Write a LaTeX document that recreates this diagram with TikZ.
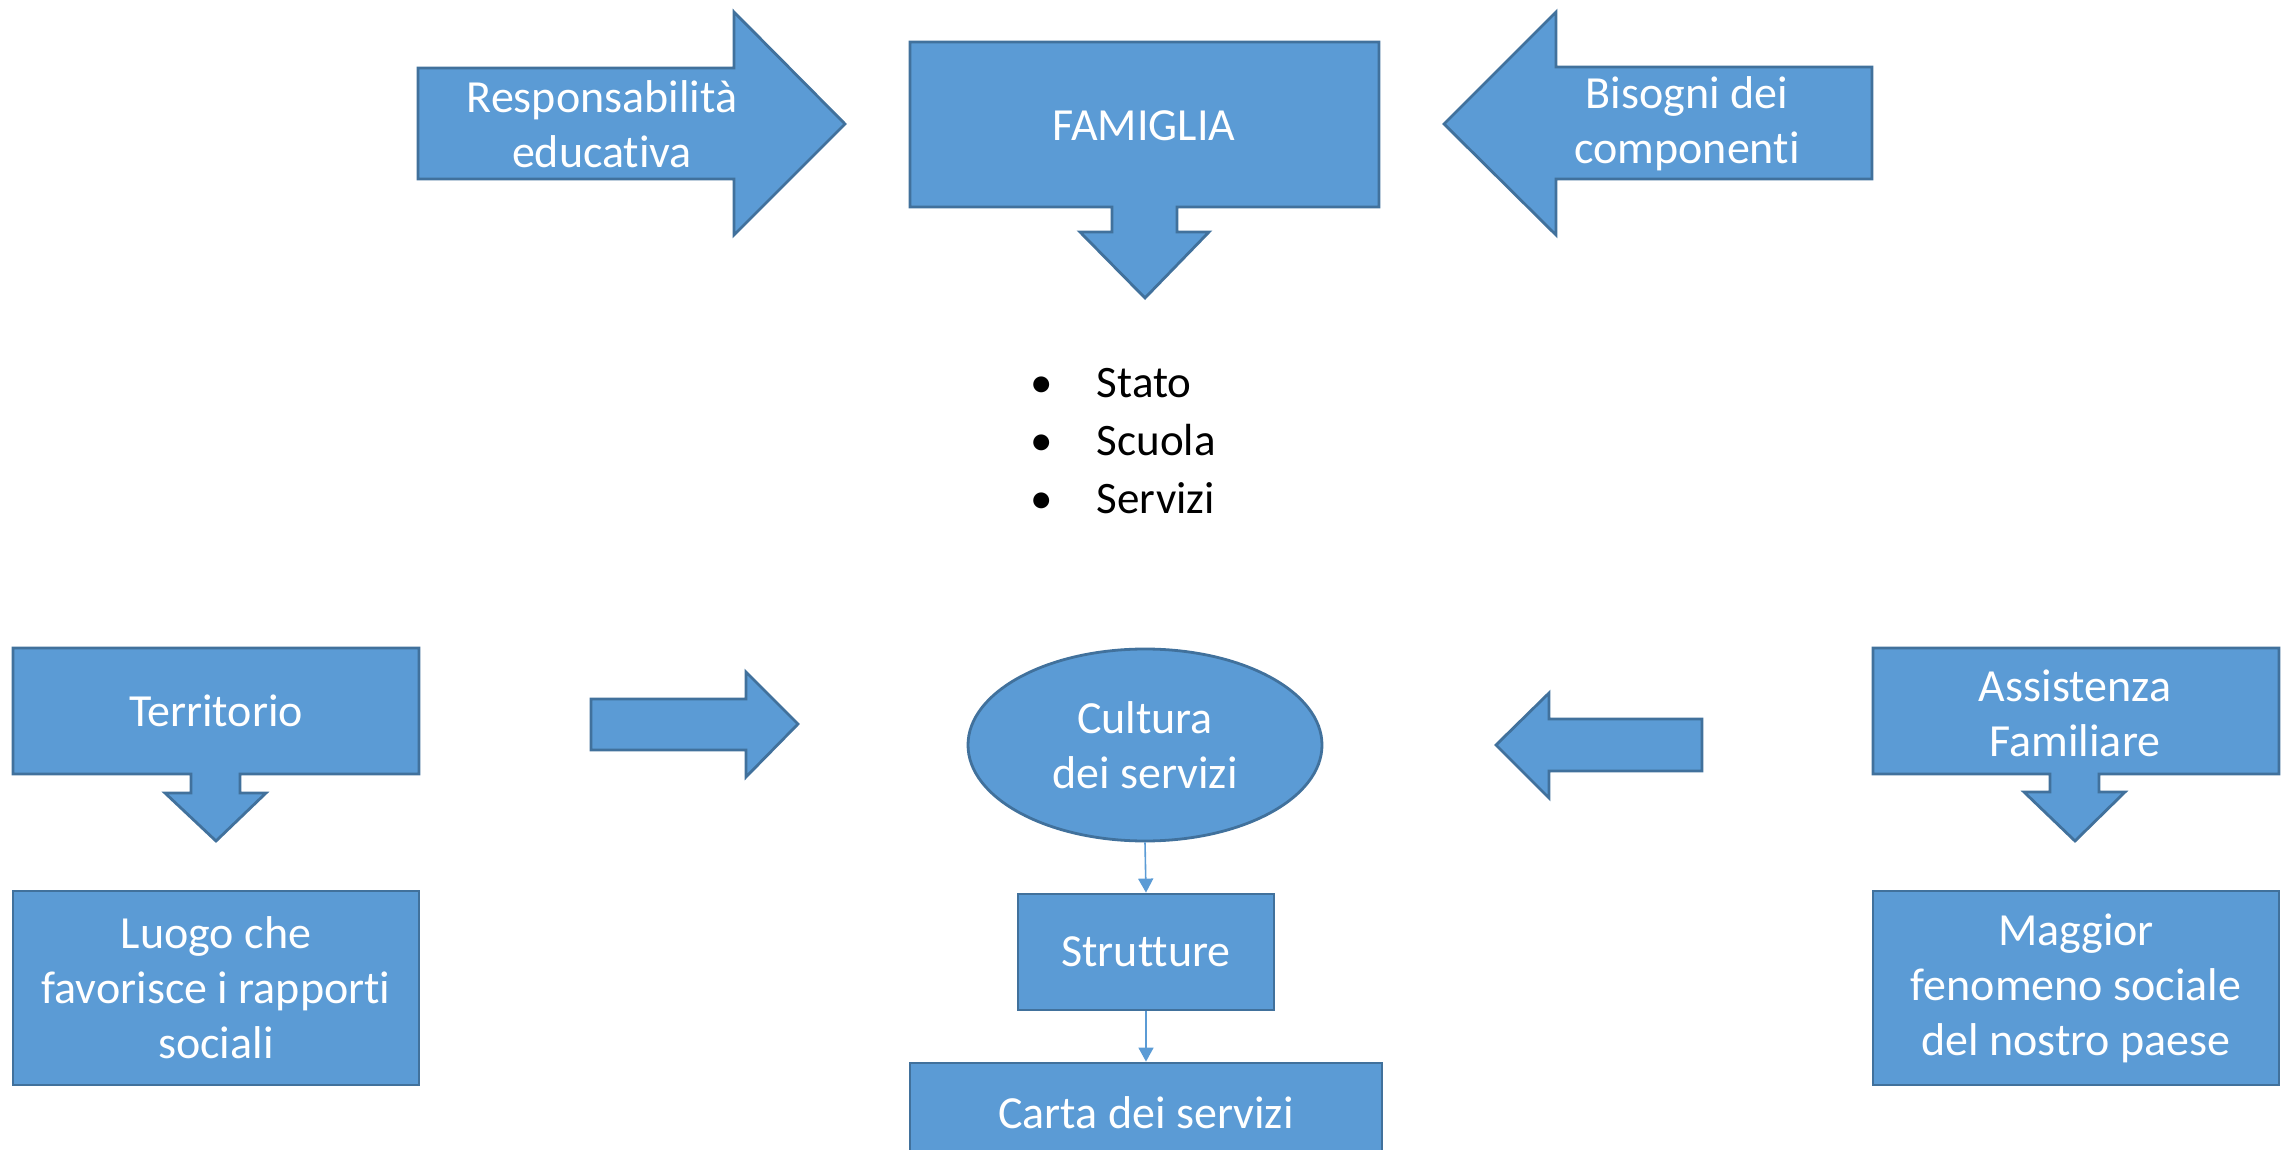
\documentclass[tikz,border=0pt]{standalone}
\usepackage{fontspec}
\setmainfont{Carlito}[Ligatures={NoCommon,NoContextual}]
\usetikzlibrary{arrows.meta,shapes.geometric}

\definecolor{officeblue}{RGB}{91,155,213}
\definecolor{officeline}{RGB}{65,113,156}

\tikzset{
  blueshape/.style={draw=officeline,fill=officeblue,line width=1.4pt,line join=miter},
  whitetext/.style={text=white,align=center,inner sep=0.75pt,font=\fontsize{23}{27.5}\selectfont},
  blacktext/.style={text=black,inner sep=0.75pt,font=\fontsize{22.5}{28.5}\selectfont},
  bluebox/.style={blueshape,whitetext,rectangle},
  thinarrow/.style={draw=officeblue,line width=0.8pt,-{Triangle[width=7.5pt,length=7pt]}}
}

\begin{document}
\begin{tikzpicture}[x=0.5pt,y=0.5pt,yscale=-1,xscale=1]
        \clip (0,0) rectangle (2283,1150);

        %Shape: Right Arrow [id:responsabilita]
        \draw [blueshape] (418,68) -- (734,68) -- (734,12) -- (845,124) -- (734,235) -- (734,179) -- (418,179) -- cycle ;
        %Shape: Down Arrow Callout [id:famiglia]
        \draw [blueshape] (910,42) -- (1379,42) -- (1379,207) -- (1177,207) -- (1177,232) -- (1209,232) -- (1145,298) -- (1080,232) -- (1112,232) -- (1112,207) -- (910,207) -- cycle ;
        %Shape: Left Arrow [id:bisogni]
        \draw [blueshape] (1872,67) -- (1556,67) -- (1556,12) -- (1444,124) -- (1556,235) -- (1556,179) -- (1872,179) -- cycle ;

        %Shape: Down Arrow Callout [id:territorio]
        \draw [blueshape] (13,648) -- (419,648) -- (419,774) -- (240,774) -- (240,793) -- (266,793) -- (216,841) -- (165,793) -- (191,793) -- (191,774) -- (13,774) -- cycle ;
        %Shape: Right Arrow [id:freccia dx]
        \draw [blueshape] (591,699) -- (746,699) -- (746,672) -- (798,724) -- (746,777) -- (746,750) -- (591,750) -- cycle ;
        %Shape: Left Arrow [id:freccia sx]
        \draw [blueshape] (1702,719) -- (1549,719) -- (1549,693) -- (1496,745) -- (1549,798) -- (1549,771) -- (1702,771) -- cycle ;
        %Shape: Down Arrow Callout [id:assistenza]
        \draw [blueshape] (1873,648) -- (2279,648) -- (2279,774) -- (2099,774) -- (2099,792) -- (2125,792) -- (2075,841) -- (2024,792) -- (2050,792) -- (2050,774) -- (1873,774) -- cycle ;

        % Text Node
        \node [whitetext] (respEdu) at (602,124) {Responsabilità\\educativa};
        % Text Node
        \node [whitetext] (famiglia) at (1144,126) {FAMIGLIA};
        % Text Node
        \node [whitetext] (bisogni) at (1687,124) {Bisogni dei\\componenti};

        % Text Node
        \node [blacktext,anchor=base] (dotStato) at (1042,398) {\textbullet};
        \node [blacktext,anchor=base west] (stato) at (1095,398) {Stato};
        % Text Node
        \node [blacktext,anchor=base] (dotScuola) at (1042,455) {\textbullet};
        \node [blacktext,anchor=base west] (scuola) at (1095,455) {Scuola};
        % Text Node
        \node [blacktext,anchor=base] (dotServizi) at (1042,513) {\textbullet};
        \node [blacktext,anchor=base west] (servizi) at (1095,513) {Servizi};

        % Text Node
        \node [whitetext] (territorio) at (216,711) {Territorio};
        % Text Node
        \node [whitetext] (assistenza) at (2075,713) {Assistenza\\Familiare};

        %Shape: Ellipse [id:cultura]
        \node [blueshape,whitetext,ellipse,minimum width=177pt,minimum height=96pt] (cultura) at (1145,745) {Cultura\\dei servizi};
        %Shape: Rectangle [id:strutture]
        \node [bluebox,minimum width=128pt,minimum height=58pt] (strutture) at (1146,952) {Strutture};
        %Shape: Rectangle [id:carta]
        \node [bluebox,minimum width=236pt,minimum height=50pt] (carta) at (1146,1113) {Carta dei servizi};
        %Shape: Rectangle [id:luogo]
        \node [bluebox,minimum width=203pt,minimum height=97pt] (luogo) at (216,988) {Luogo che\\favorisce i rapporti\\sociali};
        %Shape: Rectangle [id:maggior]
        \node [bluebox,minimum width=203pt,minimum height=97pt] (maggior) at (2076,988) {Maggior\\fenomeno sociale\\del nostro paese};

        %Straight Lines [id:cultura-strutture]
        \draw [thinarrow] (cultura.south) -- (strutture.north) ;
        %Straight Lines [id:strutture-carta]
        \draw [thinarrow] (strutture.south) -- (carta.north) ;

\end{tikzpicture}
\end{document}
